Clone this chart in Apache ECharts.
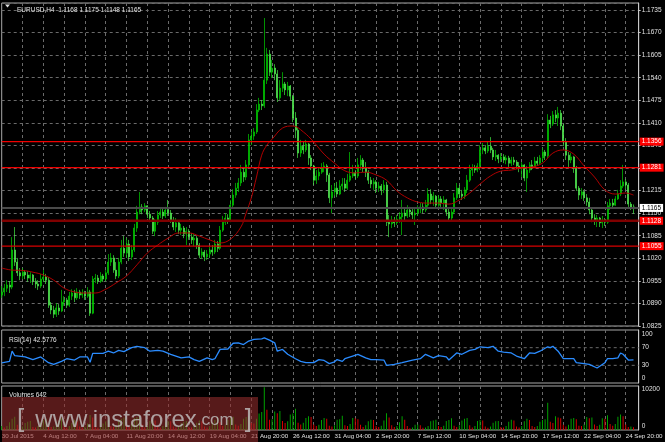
<!DOCTYPE html>
<html><head><meta charset="utf-8">
<script src="https://cdn.jsdelivr.net/npm/echarts@6/dist/echarts.min.js"></script>
<style>html,body{margin:0;padding:0;background:#000;overflow:hidden}#c{width:665px;height:442px}</style>
</head><body><div id="c"></div>
<script>
// ---------- data ----------
const tickLabels = ['30 Jul 2015','4 Aug 12:00','7 Aug 04:00','11 Aug 20:00','14 Aug 12:00','19 Aug 04:00','21 Aug 20:00','26 Aug 12:00','31 Aug 04:00','2 Sep 20:00','7 Sep 12:00','10 Sep 04:00','14 Sep 20:00','17 Sep 12:00','22 Sep 04:00','24 Sep 20:00'];
const tickStep = 16;      // bars between time labels
const gridStep = 8;       // bars between vertical grid lines
const barSlots = 246;     // category slots on the time axis
const firstOpen = 1.0914;
const closes = [
1.0923,1.0934,1.0943,1.0937,1.1044,1.1009,1.0978,1.0969,1.0980,1.0972,
1.0963,1.0972,1.0954,1.0946,1.0940,1.0960,1.0966,1.0957,1.0885,1.0871,
1.0859,1.0877,1.0868,1.0894,1.0900,1.0885,1.0911,1.0920,1.0906,1.0923,
1.0914,1.0920,1.0911,1.0923,1.0862,1.0960,1.0963,1.0954,1.0969,1.0960,
1.0978,1.1009,1.1021,1.0986,1.0969,1.1009,1.1049,1.1035,1.1061,1.1024,
1.1044,1.1107,1.1153,1.1168,1.1159,1.1171,1.1147,1.1136,1.1098,1.1124,
1.1145,1.1153,1.1142,1.1159,1.1150,1.1130,1.1110,1.1122,1.1101,1.1107,
1.1090,1.1098,1.1081,1.1073,1.1078,1.1058,1.1029,1.1038,1.1024,1.1032,
1.1044,1.1038,1.1061,1.1049,1.1101,1.1124,1.1136,1.1130,1.1173,1.1202,
1.1222,1.1237,1.1268,1.1254,1.1289,1.1361,1.1372,1.1384,1.1447,1.1464,
1.1459,1.1533,1.1608,1.1556,1.1568,1.1551,1.1482,1.1510,1.1522,1.1505,
1.1516,1.1487,1.1424,1.1389,1.1323,1.1343,1.1332,1.1349,1.1309,1.1286,
1.1245,1.1257,1.1268,1.1280,1.1286,1.1260,1.1194,1.1211,1.1222,1.1205,
1.1228,1.1234,1.1222,1.1245,1.1257,1.1266,1.1257,1.1289,1.1303,1.1280,
1.1268,1.1245,1.1234,1.1240,1.1222,1.1228,1.1217,1.1231,1.1124,1.1119,
1.1130,1.1122,1.1133,1.1139,1.1150,1.1142,1.1159,1.1153,1.1145,1.1150,
1.1162,1.1168,1.1159,1.1173,1.1205,1.1188,1.1199,1.1173,1.1191,1.1179,
1.1188,1.1153,1.1136,1.1153,1.1194,1.1222,1.1205,1.1199,1.1217,1.1245,
1.1274,1.1280,1.1274,1.1286,1.1332,1.1338,1.1329,1.1343,1.1332,1.1312,
1.1317,1.1306,1.1312,1.1303,1.1309,1.1294,1.1303,1.1297,1.1286,1.1280,
1.1289,1.1251,1.1274,1.1289,1.1283,1.1300,1.1294,1.1309,1.1326,1.1315,
1.1418,1.1407,1.1433,1.1424,1.1438,1.1401,1.1355,1.1317,1.1303,1.1312,
1.1280,1.1222,1.1202,1.1211,1.1194,1.1182,1.1159,1.1136,1.1127,1.1136,
1.1122,1.1130,1.1124,1.1171,1.1179,1.1173,1.1191,1.1205,1.1228,1.1240,
1.1231,1.1176,1.1168,1.1165];
const highs = [
1.0940,1.0946,1.0957,1.0954,1.1081,1.1110,1.1021,1.0992,1.0992,1.0986,
1.0983,1.0980,1.0975,1.0963,1.0957,1.0975,1.0986,1.0975,1.0966,1.0894,
1.0883,1.0891,1.0888,1.0929,1.0911,1.0906,1.0923,1.0931,1.0929,1.0934,
1.0929,1.0931,1.0926,1.0937,1.0929,1.0969,1.0975,1.0972,1.0980,1.0975,
1.0986,1.1032,1.1035,1.1029,1.1009,1.1021,1.1073,1.1084,1.1078,1.1073,
1.1058,1.1119,1.1171,1.1211,1.1176,1.1179,1.1173,1.1156,1.1142,1.1133,
1.1156,1.1162,1.1162,1.1168,1.1188,1.1159,1.1139,1.1136,1.1124,1.1119,
1.1113,1.1110,1.1104,1.1093,1.1090,1.1084,1.1064,1.1049,1.1044,1.1044,
1.1055,1.1058,1.1073,1.1070,1.1113,1.1142,1.1150,1.1147,1.1188,1.1219,
1.1237,1.1251,1.1289,1.1283,1.1303,1.1378,1.1389,1.1395,1.1464,1.1482,
1.1476,1.1712,1.1626,1.1620,1.1591,1.1579,1.1562,1.1533,1.1556,1.1528,
1.1528,1.1519,1.1490,1.1441,1.1395,1.1361,1.1355,1.1361,1.1352,1.1317,
1.1289,1.1274,1.1283,1.1294,1.1297,1.1291,1.1266,1.1231,1.1237,1.1240,
1.1245,1.1251,1.1251,1.1263,1.1326,1.1289,1.1274,1.1309,1.1317,1.1309,
1.1297,1.1274,1.1254,1.1251,1.1245,1.1240,1.1234,1.1245,1.1240,1.1145,
1.1142,1.1139,1.1145,1.1153,1.1188,1.1165,1.1173,1.1168,1.1162,1.1162,
1.1173,1.1179,1.1179,1.1188,1.1222,1.1219,1.1211,1.1202,1.1202,1.1199,
1.1199,1.1191,1.1165,1.1165,1.1208,1.1237,1.1231,1.1217,1.1225,1.1260,
1.1289,1.1291,1.1289,1.1294,1.1346,1.1352,1.1346,1.1355,1.1369,1.1338,
1.1332,1.1320,1.1323,1.1320,1.1317,1.1315,1.1312,1.1312,1.1303,1.1297,
1.1297,1.1291,1.1286,1.1297,1.1303,1.1312,1.1312,1.1317,1.1338,1.1332,
1.1435,1.1430,1.1444,1.1447,1.1456,1.1447,1.1407,1.1366,1.1326,1.1323,
1.1315,1.1286,1.1228,1.1222,1.1217,1.1205,1.1194,1.1165,1.1147,1.1145,
1.1139,1.1142,1.1136,1.1182,1.1191,1.1191,1.1199,1.1217,1.1245,1.1289,
1.1248,1.1237,1.1182,1.1175];
const lows = [
1.0906,1.0911,1.0923,1.0920,1.0931,1.0998,1.0969,1.0957,1.0960,1.0960,
1.0952,1.0949,1.0943,1.0934,1.0929,1.0934,1.0952,1.0946,1.0877,1.0859,
1.0848,1.0851,1.0857,1.0865,1.0883,1.0877,1.0880,1.0900,1.0894,1.0900,
1.0903,1.0906,1.0900,1.0906,1.0854,1.0859,1.0949,1.0946,1.0949,1.0952,
1.0954,1.0972,1.0998,1.0978,1.0960,1.0963,1.1003,1.1024,1.1021,1.1012,
1.1015,1.1038,1.1096,1.1147,1.1147,1.1153,1.1136,1.1124,1.1090,1.1084,
1.1116,1.1136,1.1133,1.1136,1.1142,1.1122,1.1101,1.1096,1.1090,1.1087,
1.1078,1.1058,1.1073,1.1061,1.1055,1.1047,1.1021,1.1018,1.1012,1.1015,
1.1021,1.1027,1.1032,1.1038,1.1044,1.1096,1.1116,1.1119,1.1124,1.1165,
1.1194,1.1211,1.1228,1.1240,1.1245,1.1280,1.1346,1.1361,1.1378,1.1441,
1.1447,1.1453,1.1522,1.1545,1.1539,1.1533,1.1470,1.1476,1.1499,1.1490,
1.1487,1.1476,1.1412,1.1366,1.1309,1.1312,1.1320,1.1326,1.1289,1.1274,
1.1231,1.1234,1.1245,1.1263,1.1268,1.1240,1.1179,1.1150,1.1199,1.1196,
1.1202,1.1217,1.1211,1.1217,1.1240,1.1251,1.1248,1.1251,1.1274,1.1268,
1.1254,1.1234,1.1222,1.1217,1.1208,1.1211,1.1202,1.1208,1.1113,1.1081,
1.1107,1.1110,1.1116,1.1122,1.1087,1.1130,1.1136,1.1139,1.1133,1.1116,
1.1142,1.1150,1.1150,1.1153,1.1168,1.1176,1.1171,1.1162,1.1168,1.1168,
1.1159,1.1142,1.1127,1.1130,1.1147,1.1188,1.1194,1.1188,1.1191,1.1208,
1.1240,1.1257,1.1266,1.1268,1.1274,1.1320,1.1320,1.1323,1.1323,1.1303,
1.1300,1.1294,1.1297,1.1294,1.1291,1.1283,1.1286,1.1289,1.1277,1.1268,
1.1254,1.1242,1.1211,1.1266,1.1274,1.1280,1.1286,1.1289,1.1297,1.1303,
1.1309,1.1395,1.1401,1.1412,1.1401,1.1389,1.1343,1.1303,1.1283,1.1294,
1.1266,1.1214,1.1188,1.1191,1.1185,1.1171,1.1147,1.1124,1.1116,1.1110,
1.1110,1.1107,1.1113,1.1119,1.1159,1.1165,1.1171,1.1188,1.1199,1.1222,
1.1219,1.1168,1.1159,1.1148];
// moving average: [bar index, value]
const maPoints = [[0,1.0992],[4,1.0986],[8,1.0985],[12,1.0980],[16,1.0972],[20,1.0957],[24,1.0934],[28,1.0923],[32,1.0920],[36,1.0920],[40,1.0931],[44,1.0949],[48,1.0969],[52,1.1001],[56,1.1035],[60,1.1058],[64,1.1078],[68,1.1093],[72,1.1093],[76,1.1084],[80,1.1073],[84,1.1064],[88,1.1075],[92,1.1110],[94,1.1150],[96,1.1194],[98,1.1254],[100,1.1317],[102,1.1346],[104,1.1363],[108,1.1395],[112,1.1401],[116,1.1384],[120,1.1355],[124,1.1320],[128,1.1294],[132,1.1272],[136,1.1266],[140,1.1268],[144,1.1260],[148,1.1245],[152,1.1214],[156,1.1194],[160,1.1182],[164,1.1179],[168,1.1179],[172,1.1176],[176,1.1188],[180,1.1208],[184,1.1234],[188,1.1257],[192,1.1271],[196,1.1274],[200,1.1280],[204,1.1283],[208,1.1294],[212,1.1323],[216,1.1332],[220,1.1320],[224,1.1286],[228,1.1254],[232,1.1217],[236,1.1205],[240,1.1208],[243,1.1202]];
// RSI(14): [bar index, value]
const rsiPoints = [[0,35.6],[3,39],[4,62],[5,52],[9,49],[12,43],[15,49],[18,36],[20,32],[23,39],[25,45],[28,42],[30,49],[33,49],[34,37],[35,57],[39,57],[41,62],[43,58],[45,64],[47,61],[50,70],[52,73],[55,70],[57,62],[60,64],[62,62],[65,55],[67,51],[69,47],[72,49],[74,43],[76,39],[79,47],[81,43],[82,45],[84,66],[87,67],[89,80],[91,81],[93,77],[95,85],[97,89],[100,90],[101,92],[103,87],[105,81],[106,62],[108,66],[110,55],[113,45],[115,39],[117,36],[120,36],[122,43],[124,41],[126,34],[128,38],[129,43],[131,39],[132,45],[135,51],[137,55],[140,47],[142,43],[144,43],[147,42],[148,30],[151,32],[154,36],[156,39],[158,42],[161,45],[163,55],[166,47],[168,52],[171,49],[172,42],[175,58],[177,55],[180,64],[182,66],[184,72],[187,70],[189,73],[191,62],[193,60],[196,58],[198,51],[201,45],[203,58],[205,57],[207,62],[210,72],[211,70],[212,73],[214,62],[216,45],[220,45],[221,36],[224,34],[226,32],[229,24],[230,28],[232,36],[233,45],[235,45],[237,47],[238,58],[239,55],[241,42],[243,42.58]];
const volumes = [
900,
600,900,1800,2600,3100,1200, 500,800,1600,1900,2100,700, 600,900,1700,2300,2600,900,
700,800,1900,2200,2700,1000, 500,900,1600,2400,2000,800, 600,800,1500,3500,2900,1100,
500,800,1500,2000,2300,900, 700,1000,2000,2600,2900,1200, 800,1400,2800,3000,3200,1300,
600,1000,2100,2400,2200,900, 500,900,1800,2100,2000,800, 500,800,1500,1900,2100,700,
600,900,1700,2200,2000,800, 600,900,1800,2300,3000,1800, 900,1200,2400,2700,3100,1300,
1000,1400,2600,3000,3300,1600, 1500,2600,3800,4200,9900,4700, 2400,2500,4300,3900,4400,2100,
1600,2000,3600,3800,4900,1700, 1300,1700,2800,3200,3000,1300, 900,1200,2300,2800,2600,1000,
800,1100,2400,2500,3300,1100, 900,1400,2800,2700,2500,1200, 700,1100,2000,2400,2300,900,
700,1000,2200,3900,2900,1100, 700,900,1800,3200,2400,900, 400,600,1200,1300,1100,500,
600,900,2000,2200,2400,900, 700,1000,2100,2300,2700,1000, 700,1100,2200,2600,2800,1100,
600,900,2100,2300,2200,800, 500,800,1700,2000,2100,700, 600,900,1900,2400,2200,800,
600,900,2000,2600,2300,900, 700,900,1900,2300,2500,6300, 1900,1600,3200,2900,2700,1200,
800,1200,2600,2800,2500,1000, 900,1300,3000,2700,2900,1300, 900,1200,2700,2600,3400,1400,
1000,1400,3100,3600,3200,1300, 700,800,642];
const symbolTitle = 'EURUSD,H4  1.1168 1.1175 1.1148 1.1165';
const rsiTitle = 'RSI(14) 42.5776';
const volTitle = 'Volumes 642';
const priceAxis = {min: 1.0825, max: 1.17552, interval: 0.0065};
const rsiLabels = [0, 30, 70, 100];
const rsiLevels = [30, 70];
const volMax = 10200;
const priceLevels = [1.1356, 1.1281, 1.1128, 1.1055];
const currentPrice = 1.1165;

// ---------- styles ----------
const FONT = '"Liberation Sans", Arial, sans-serif';
const TXT = '#e2e2e2';
const GRIDC = '#6a6a6a';
const FRAME = '#a8a8a8';
const levelStyles = [
  {color:'#f00000', width:1.2}, {color:'#f00000', width:1.2},
  {color:'#800000', width:2.5}, {color:'#d80000', width:1.2}
];
const L = 1.7, W = 637;

const categories = Array.from({length: barSlots}, (_, i) => String(i));
const lastSlot = barSlots - 1;
const candles = closes.map((c, i) => [i === 0 ? firstOpen : closes[i - 1], c, lows[i], highs[i]]);
const volData = volumes.map((v, i) => ({value: v, itemStyle: {color: (i === 0 || v > volumes[i - 1]) ? '#00a000' : '#d40000'}}));
const lastTick = (tickLabels.length - 1) * tickStep;

function xAx(gi, labels) {
  return {
    type: 'category', gridIndex: gi, data: categories, boundaryGap: false,
    axisLine: {show: false}, axisTick: {show: false},
    axisLabel: labels ? {
      show: true, color: TXT, fontSize: 6.2, fontFamily: FONT, align: 'left', margin: 3,
      interval: (i) => i % tickStep === 0 && i <= lastTick,
      formatter: (v, i) => tickLabels[i / tickStep] || ''
    } : {show: false},
    splitLine: {show: true, interval: (i) => i > 0 && i % gridStep === 0 && i <= lastTick,
      lineStyle: {color: GRIDC, type: [3, 3], width: 1}}
  };
}
const gridBase = {left: L, width: W, show: true, borderColor: FRAME, borderWidth: 1,
  backgroundColor: 'rgba(0,0,0,0)', outerBoundsMode: 'none', containLabel: false};

// horizontal price levels drawn as two-point line series with an end label box
function levelSeries(p, lineColor, lineWidth, bg, fg) {
  return {
    type: 'line', xAxisIndex: 0, yAxisIndex: 0, data: [[0, p], [lastSlot, p]],
    showSymbol: false, silent: true, z: 3,
    lineStyle: {color: lineColor, width: lineWidth, type: 'solid'},
    endLabel: {show: true, distance: 1, formatter: p.toFixed(4), color: fg, backgroundColor: bg,
      padding: [1, 2, 0, 2], fontSize: 6.5, fontFamily: FONT}
  };
}
const levelSeriesList = priceLevels.map((p, k) => levelSeries(p, levelStyles[k].color, levelStyles[k].width, '#ff0000', '#ffffff'));
levelSeriesList.push(levelSeries(currentPrice, '#4a4a4a', 2, '#ffffff', '#000000'));
const rsiLevelSeries = rsiLevels.map((v) => ({
  type: 'line', xAxisIndex: 1, yAxisIndex: 1, data: [[0, v], [lastSlot, v]], showSymbol: false, silent: true,
  lineStyle: {color: GRIDC, type: [3, 3], width: 1}
}));

const option = {
  backgroundColor: '#000000',
  animation: false,
  textStyle: {fontFamily: FONT},
  title: [
    {text: symbolTitle, left: 12, top: 2, textStyle: {color: TXT, fontSize: 6.5, fontWeight: 'normal', fontFamily: FONT}},
    {text: rsiTitle, left: 4, top: 332, textStyle: {color: TXT, fontSize: 6.5, fontWeight: 'normal', fontFamily: FONT}},
    {text: volTitle, left: 4, top: 387, textStyle: {color: TXT, fontSize: 6.5, fontWeight: 'normal', fontFamily: FONT}}
  ],
  grid: [
    Object.assign({}, gridBase, {top: 3, height: 323}),
    Object.assign({}, gridBase, {top: 330, height: 53}),
    Object.assign({}, gridBase, {top: 386, height: 44})
  ],
  xAxis: [xAx(0, false), xAx(1, false), xAx(2, true)],
  yAxis: [
    {type: 'value', gridIndex: 0, position: 'right', min: priceAxis.min, max: priceAxis.max, interval: priceAxis.interval,
      axisLine: {show: true, lineStyle: {color: '#c8c8c8'}}, axisTick: {show: true, length: 2, lineStyle: {color: '#c8c8c8'}},
      axisLabel: {color: TXT, fontSize: 6.5, fontFamily: FONT, margin: 3, showMaxLabel: false, formatter: (v) => v.toFixed(4)},
      splitLine: {show: true, lineStyle: {color: GRIDC, type: [3, 3], width: 1}}},
    {type: 'value', gridIndex: 1, position: 'right', min: -10, max: 110, interval: 10,
      axisLine: {show: true, lineStyle: {color: '#c8c8c8'}}, axisTick: {show: false},
      axisLabel: {color: TXT, fontSize: 6.5, fontFamily: FONT, margin: 3,
        formatter: (v) => rsiLabels.includes(Math.round(v)) ? String(Math.round(v)) : ''},
      splitLine: {show: false}},
    {type: 'value', gridIndex: 2, position: 'right', min: 0, max: volMax, interval: volMax,
      axisLine: {show: true, lineStyle: {color: '#c8c8c8'}}, axisTick: {show: false},
      axisLabel: {color: TXT, fontSize: 6.5, fontFamily: FONT, margin: 3,
        formatter: (v) => v === 0 ? '{lo|0}' : '{hi|' + v + '}',
        rich: {hi: {padding: [6, 0, 0, 0], fontSize: 6.5, color: TXT}, lo: {padding: [0, 0, 8, 0], fontSize: 6.5, color: TXT}}},
      splitLine: {show: false}}
  ],
  series: [
    {type: 'candlestick', xAxisIndex: 0, yAxisIndex: 0, data: candles, barWidth: 1.5, clip: false,
      itemStyle: {color: '#00a800', borderColor: '#00d000', color0: '#98ff98', borderColor0: '#44e844', borderWidth: 0.7}},
    {type: 'line', xAxisIndex: 0, yAxisIndex: 0, data: maPoints, smooth: 0.4, showSymbol: false,
      lineStyle: {color: '#b00000', width: 1}},
    ...levelSeriesList,
    ...rsiLevelSeries,
    {type: 'line', xAxisIndex: 1, yAxisIndex: 1, data: rsiPoints, showSymbol: false,
      lineStyle: {color: '#2b8cff', width: 1.3}},
    {type: 'bar', xAxisIndex: 2, yAxisIndex: 2, data: volData, barWidth: 1}
  ],
  graphic: [
    {type: 'polygon', shape: {points: [[5, 4.5], [10, 4.5], [7.5, 7.5]]}, style: {fill: '#e0e0e0'}},
    {type: 'rect', shape: {x: 2, y: 397, width: 256, height: 45}, style: {fill: 'rgba(150,45,45,0.58)'}, z: 100},
    {type: 'text', x: 17, y: 433, z: 101, style: {
      text: '{b|[}  {m|www.instaforex}{s|.com}  {b|]}',
      fill: 'rgba(195,195,195,0.8)', fontSize: 20, fontFamily: FONT, verticalAlign: 'bottom',
      rich: {b: {fontSize: 26, fill: 'rgba(195,195,195,0.8)'}, m: {fontSize: 24, fill: 'rgba(195,195,195,0.8)'}, s: {fontSize: 17, fill: 'rgba(195,195,195,0.8)'}}
    }}
  ]
};
const chart = echarts.init(document.getElementById('c'));
chart.setOption(option);
</script>
</body></html>
